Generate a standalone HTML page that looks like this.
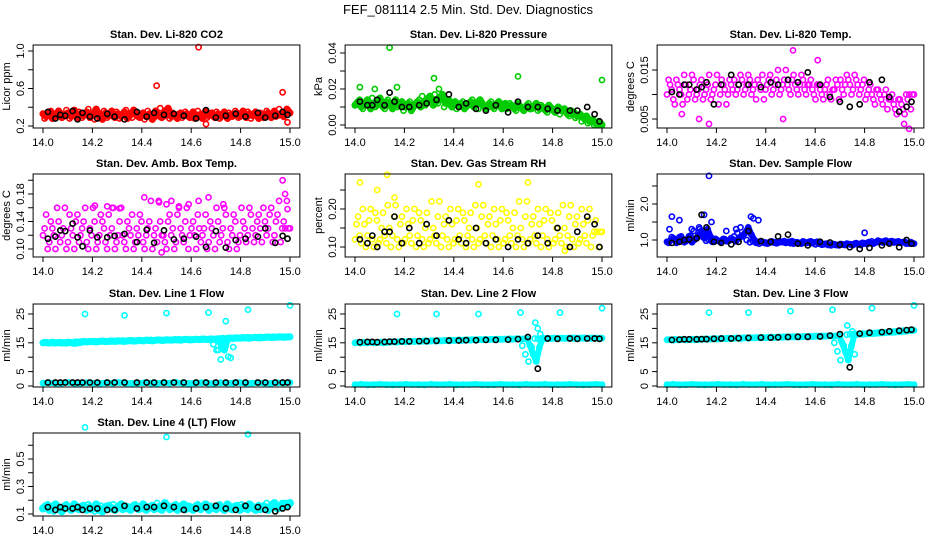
<!DOCTYPE html>
<html><head><meta charset="utf-8"><style>
html,body{margin:0;padding:0;background:#fff;}
svg{display:block;font-family:"Liberation Sans",sans-serif;}
</style></head><body>
<svg id="chart" width="936" height="540" viewBox="0 0 936 540" xmlns="http://www.w3.org/2000/svg">
<text x="468" y="14" font-size="13" text-anchor="middle">FEF_081114  2.5 Min. Std. Dev. Diagnostics</text>
</svg>
<script>
const xTicks=[14.0,14.2,14.4,14.6,14.8,15.0];
const xTickLabels=["14.0","14.2","14.4","14.6","14.8","15.0"];
const blackX=[14.02,14.05,14.07,14.09,14.12,14.14,14.16,14.19,14.22,14.26,14.29,14.33,14.38,14.42,14.45,14.49,14.53,14.57,14.62,14.66,14.70,14.74,14.78,14.82,14.87,14.90,14.94,14.97,14.99];

const co2Band=[.33,.30,.35,.28,.32,.36,.29,.31,.34,.30,.37,.28,.33,.31,.35,.29,.32,.38,.30,.27,.34,.31,.36,.29,.33,.30,.35,.28,.32,.37,.31,.29,.34,.30,.33,.27,.36,.31,.29,.35,.39,.30,.32,.28,.34,.31,.33,.29,.35,.30,.32,.28,.36,.31,.34,.29,.33,.30,.35,.28,.32,.31,.34,.30,.36,.29,.33,.31,.35,.28,.32,.30,.34,.29,.36,.31,.33,.30,.38,.34];
const co2OutX=[14.46,14.63,14.66,14.97,14.99];
const co2OutY=[.63,1.04,.22,.56,.24];
const co2Black=[.35,.28,.32,.31,.36,.27,.34,.30,.28,.33,.30,.27,.35,.30,.34,.32,.33,.31,.28,.37,.29,.31,.33,.30,.34,.29,.31,.35,.32];

const presBand=[.011,.013,.010,.012,.014,.009,.012,.011,.015,.010,.013,.012,.009,.014,.011,.013,.010,.012,.008,.011,.013,.010,.012,.014,.016,.011,.013,.015,.017,.012,.014,.010,.013,.011,.012,.009,.011,.013,.010,.012,.014,.011,.009,.012,.010,.011,.013,.009,.012,.010,.011,.009,.012,.010,.008,.011,.009,.010,.012,.009,.010,.008,.011,.009,.007,.010,.008,.009,.006,.008,.007,.005,.006,.004,.005,.002,.003,.001,.002,.000];
const presOutX=[14.02,14.08,14.14,14.17,14.32,14.34,14.66,15.0];
const presOutY=[.021,.020,.043,.021,.026,.020,.027,.025];
const presBlack=[.013,.011,.011,.014,.011,.018,.013,.010,.010,.011,.012,.014,.017,.010,.012,.009,.008,.011,.007,.013,.010,.010,.009,.008,.008,.008,.010,.006,.002];

const tempBand=[.010,.012,.009,.013,.011,.008,.012,.010,.014,.009,.011,.013,.010,.012,.009,.011,.014,.010,.012,.008,.013,.011,.010,.012,.013,.011,.014,.010,.012,.013,.011,.009,.012,.014,.011,.013,.010,.012,.015,.011,.013,.012,.010,.014,.011,.012,.013,.010,.012,.011,.009,.012,.010,.011,.013,.009,.011,.012,.013,.010,.014,.012,.011,.013,.010,.012,.009,.011,.010,.008,.011,.009,.010,.007,.009,.008,.006,.009,.007,.010];
const tempOutX=[14.06,14.13,14.17,14.47,14.51,14.61,14.96,14.98];
const tempOutY=[.006,.005,.004,.005,.019,.017,.004,.003];
const tempBlack=[.0105,.010,.012,.012,.011,.0115,.0125,.008,.012,.014,.012,.012,.0115,.0125,.012,.013,.0125,.0145,.012,.0095,.0085,.0075,.008,.0125,.013,.0095,.0065,.0075,.0085];

const ambBand=[.12,.15,.11,.13,.10,.14,.12,.16,.11,.13,.10,.15,.12,.14,.11,.13,.16,.10,.12,.14,.11,.15,.13,.10,.12,.16,.11,.14,.12,.10,.13,.15,.11,.12,.14,.10,.13,.17,.12,.11,.14,.12,.10,.15,.13,.11,.16,.12,.14,.10,.13,.12,.15,.11,.13,.10,.14,.12,.16,.11,.13,.15,.10,.12,.14,.11,.16,.13,.12,.15,.11,.14,.13,.16,.12,.15,.11,.14,.17,.13];
const ambOutX=[14.21,14.26,14.28,14.31,14.47,14.5,14.52,14.55,14.59,14.63,14.67,14.73,14.97,14.98,14.99,14.41,14.48];
const ambOutY=[.163,.162,.160,.159,.168,.165,.170,.162,.165,.170,.175,.165,.20,.18,.158,.175,.095];
const ambBlack=[.115,.118,.127,.126,.137,.117,.104,.127,.117,.117,.119,.122,.110,.128,.109,.127,.114,.115,.118,.103,.126,.102,.113,.115,.118,.130,.109,.119,.115];

const rhBand=[.12,.18,.11,.16,.13,.20,.10,.17,.12,.19,.11,.15,.13,.21,.10,.18,.12,.16,.11,.20,.13,.17,.10,.19,.12,.15,.11,.22,.13,.18,.10,.16,.12,.20,.11,.17,.13,.19,.10,.15,.12,.21,.11,.18,.13,.16,.10,.20,.12,.17,.11,.19,.13,.15,.10,.22,.12,.18,.11,.16,.13,.20,.10,.17,.12,.19,.11,.15,.13,.21,.10,.18,.12,.16,.11,.20,.13,.17,.10,.14];
const rhOutX=[14.02,14.09,14.13,14.16,14.5,14.7,14.85];
const rhOutY=[.27,.25,.29,.23,.265,.27,.09];
const rhBlack=[.12,.11,.13,.10,.14,.14,.18,.11,.15,.11,.16,.13,.17,.12,.11,.15,.11,.12,.10,.12,.11,.13,.11,.15,.10,.14,.18,.16,.10];

const flowBand=[.95,.98,1.05,.92,1.08,1.0,.96,1.10,.94,1.02,1.12,1.25,1.05,1.3,1.08,.98,1.0,.95,1.03,.97,.99,1.02,.96,1.05,1.1,1.2,1.35,1.15,1.0,.94,.96,.92,.90,.95,.93,.91,.96,.94,.92,.95,.97,.93,.91,.90,.94,.92,.96,.93,.95,.91,.88,.90,.87,.89,.86,.85,.88,.86,.89,.87,.90,.88,.86,.91,.89,.92,.90,.94,.96,.93,.98,.95,.97,.94,.96,.93,.95,.92,.94,.90];
const flowOutX=[14.01,14.02,14.05,14.1,14.13,14.15,14.17,14.18,14.34,14.35,14.37,14.24,14.28,14.8];
const flowOutY=[1.3,1.65,1.55,1.3,1.35,1.7,2.78,1.5,1.65,1.6,1.55,1.25,1.3,1.2];
const flowBlack=[.92,.95,1.0,1.02,1.05,1.7,1.35,.95,.92,.88,.95,1.25,.97,.95,1.1,1.15,.9,.85,.95,.93,.87,.80,.75,.78,.85,.90,.80,1.0,.90];

const line1Band=[15.0,15.1,14.9,15.2,15.0,15.1,14.9,15.0,15.2,15.1,14.8,15.0,15.1,15.4,15.3,15.5,15.4,15.3,15.5,15.6,15.4,15.5,15.6,15.5,15.7,15.6,15.5,15.7,15.8,15.6,15.7,15.8,15.7,15.9,15.8,15.7,15.9,16.0,15.8,15.9,16.0,15.9,16.1,16.0,15.9,16.1,16.2,16.0,16.1,16.2,16.1,16.3,16.2,16.1,16.3,16.2,16.4,14.5,12.5,16.5,16.6,16.5,16.7,16.6,16.8,16.7,16.6,16.8,16.9,16.7,16.8,16.9,17.0,16.8,16.9,17.0,17.1,16.9,17.0,17.1];
const line1Low=[1.0,1.1,0.9,1.0,1.2,0.9,1.0,1.1,1.0,0.9,1.1,1.0,1.2,1.0,0.9,1.0,1.1,1.0,0.9,1.1,1.0,1.2,1.0,0.9,1.0,1.1,1.0,0.9,1.1,1.0,1.0,1.2,0.9,1.0,1.1,1.0,0.9,1.1,1.0,1.2];
const line1OutX=[14.17,14.33,14.5,14.67,14.83,15.0,14.71,14.72,14.73,14.74,14.75,14.76,14.77,14.73];
const line1OutY=[25,24.5,25.3,25.5,26.5,28,12.5,9.2,13,22.5,10.2,9.8,13.5,16];
const line1Black=[1.2,1.2,1.2,1.2,1.2,1.2,1.2,1.2,1.2,1.2,1.2,1.2,1.2,1.2,1.2,1.2,1.2,1.2,1.2,1.2,1.2,1.2,1.2,1.2,1.2,1.2,1.2,1.2,1.2];

const line2Band=[15.0,15.1,14.9,15.1,15.0,15.2,15.0,15.1,15.2,15.0,15.1,15.2,15.3,15.2,15.3,15.4,15.3,15.4,15.5,15.4,15.5,15.5,15.6,15.5,15.6,15.7,15.6,15.7,15.7,15.8,15.7,15.8,15.8,15.9,15.8,15.9,16.0,15.9,16.0,16.0,16.1,16.0,16.1,16.1,16.2,16.1,16.2,16.2,16.3,16.2,16.3,16.3,16.4,16.3,16.4,16.4,14.0,11.0,8.5,13.5,16.5,16.4,16.5,16.5,16.6,16.5,16.6,16.5,16.6,16.6,16.5,16.6,16.7,16.6,16.5,16.6,16.7,16.6,16.5,16.6];
const line2Low=[0.5,0.6,0.4,0.5,0.6,0.5,0.4,0.5,0.6,0.5,0.5,0.4,0.6,0.5,0.5,0.6,0.4,0.5,0.5,0.6,0.5,0.4,0.5,0.6,0.5,0.5,0.4,0.6,0.5,0.5,0.6,0.4,0.5,0.5,0.6,0.5,0.4,0.5,0.6,0.5];
const line2OutX=[14.17,14.33,14.5,14.67,14.83,15.0,14.73,14.74,14.75];
const line2OutY=[25,25,25,25.5,25.5,27,22,20,18];
const line2Black=[15.2,15.3,15.3,15.2,15.3,15.4,15.4,15.5,15.5,15.6,15.6,15.7,15.8,15.8,15.9,15.9,16.0,16.0,16.1,16.3,17.0,6.0,16.5,16.4,16.5,16.4,16.5,16.5,16.4];

const line3Band=[16.0,16.1,15.9,16.1,16.0,16.2,16.0,16.1,16.2,16.0,16.1,16.2,16.3,16.2,16.3,16.4,16.3,16.4,16.5,16.4,16.5,16.5,16.6,16.5,16.6,16.7,16.6,16.7,16.7,16.8,16.7,16.8,16.8,16.9,16.8,16.9,17.0,16.9,17.0,17.0,17.1,17.0,17.1,17.1,17.2,17.1,17.2,17.2,17.3,17.2,17.3,17.3,17.4,17.3,17.4,17.5,15.0,12.0,9.0,14.0,17.8,17.9,18.0,18.0,18.1,18.2,18.2,18.3,18.4,18.4,18.5,18.6,18.6,18.7,18.8,18.9,19.0,19.1,19.2,19.3];
const line3Low=[0.5,0.6,0.4,0.5,0.6,0.5,0.4,0.5,0.6,0.5,0.5,0.4,0.6,0.5,0.5,0.6,0.4,0.5,0.5,0.6,0.5,0.4,0.5,0.6,0.5,0.5,0.4,0.6,0.5,0.5,0.6,0.4,0.5,0.5,0.6,0.5,0.4,0.5,0.6,0.5];
const line3OutX=[14.17,14.33,14.5,14.67,14.83,15.0,14.73,14.75,14.76];
const line3OutY=[25.5,25.5,26,26.5,27,28,21,19,11];
const line3Black=[16.0,16.1,16.2,16.2,16.2,16.3,16.3,16.4,16.5,16.5,16.6,16.7,16.8,16.8,16.9,17.0,17.1,17.1,17.2,17.5,18.0,6.5,18.2,18.5,18.7,19.0,19.2,19.4,19.6];

const line4Band=[.14,.16,.13,.15,.17,.14,.12,.16,.15,.13,.17,.14,.15,.16,.13,.15,.14,.17,.13,.12,.15,.16,.14,.13,.15,.17,.14,.15,.13,.16,.15,.14,.17,.13,.15,.16,.14,.15,.13,.18,.15,.14,.16,.13,.15,.17,.14,.15,.13,.16,.14,.15,.17,.13,.15,.14,.16,.15,.13,.17,.14,.15,.16,.13,.15,.14,.17,.15,.13,.16,.14,.15,.13,.16,.18,.14,.15,.17,.16,.18];
const line4OutX=[14.17,14.5,14.83];
const line4OutY=[.73,.66,.68];
const line4Black=[.15,.13,.15,.14,.14,.15,.13,.14,.14,.13,.13,.16,.14,.15,.15,.16,.15,.13,.14,.15,.16,.14,.13,.16,.15,.13,.12,.14,.15];

const svg=document.getElementById('chart');
const NS='http://www.w3.org/2000/svg';
const colX14=[43,355,667];
const rowTop=[45,174,304,433];
const BOXH=83, XW=247;

const panels=[
 {name:'licor-co2',title:'Stan. Dev. Li-820 CO2',yl:'Licor ppm',c:0,r:0,col:'#ff0000',cal:[0.2,81,1.0,6],ticks:[0.2,0.4,0.6,0.8,1.0],labs:['0.2','','0.6','','1.0'],band:co2Band,low:null,ox:co2OutX,oy:co2OutY,bk:co2Black,solid:7},
 {name:'licor-pressure',title:'Stan. Dev. Li-820 Pressure',yl:'kPa',c:1,r:0,col:'#00cc00',cal:[0,80,0.04,8],ticks:[0,.01,.02,.03,.04],labs:['0.00','','0.02','','0.04'],band:presBand,low:null,ox:presOutX,oy:presOutY,bk:presBlack,solid:7},
 {name:'licor-temp',title:'Stan. Dev. Li-820 Temp.',yl:'degrees C',c:2,r:0,col:'#ff00ff',cal:[0.005,74,0.015,25],ticks:[.005,.010,.015],labs:['0.005','','0.015'],band:tempBand,low:null,ox:tempOutX,oy:tempOutY,bk:tempBlack,solid:0},
 {name:'amb-box-temp',title:'Stan. Dev. Amb. Box Temp.',yl:'degrees C',c:0,r:1,col:'#ff00ff',cal:[0.10,75,0.18,20],ticks:[.10,.12,.14,.16,.18,.20],labs:['0.10','','0.14','','0.18',''],band:ambBand,low:null,ox:ambOutX,oy:ambOutY,bk:ambBlack,solid:0},
 {name:'gas-stream-rh',title:'Stan. Dev. Gas Stream RH',yl:'percent',c:1,r:1,col:'#ffff00',cal:[0.10,73,0.20,35],ticks:[.10,.15,.20,.25],labs:['0.10','','0.20',''],band:rhBand,low:null,ox:rhOutX,oy:rhOutY,bk:rhBlack,solid:0},
 {name:'sample-flow',title:'Stan. Dev. Sample Flow',yl:'ml/min',c:2,r:1,col:'#0000ff',cal:[1.0,66,2.0,30],ticks:[1.0,1.5,2.0,2.5],labs:['1.0','','2.0',''],band:flowBand,low:null,ox:flowOutX,oy:flowOutY,bk:flowBlack,solid:6},
 {name:'line1-flow',title:'Stan. Dev. Line 1 Flow',yl:'ml/min',c:0,r:2,col:'#00ffff',cal:[0,82,25,10],ticks:[0,5,10,15,20,25],labs:['0','5','','15','','25'],band:line1Band,low:line1Low,ox:line1OutX,oy:line1OutY,bk:line1Black,solid:7},
 {name:'line2-flow',title:'Stan. Dev. Line 2 Flow',yl:'ml/min',c:1,r:2,col:'#00ffff',cal:[0,82,25,10],ticks:[0,5,10,15,20,25],labs:['0','5','','15','','25'],band:line2Band,low:line2Low,ox:line2OutX,oy:line2OutY,bk:line2Black,solid:6},
 {name:'line3-flow',title:'Stan. Dev. Line 3 Flow',yl:'ml/min',c:2,r:2,col:'#00ffff',cal:[0,82,25,10],ticks:[0,5,10,15,20,25],labs:['0','5','','15','','25'],band:line3Band,low:line3Low,ox:line3OutX,oy:line3OutY,bk:line3Black,solid:6},
 {name:'line4-flow',title:'Stan. Dev. Line 4 (LT) Flow',yl:'ml/min',c:0,r:3,col:'#00ffff',cal:[0.1,81,0.5,26],ticks:[.1,.2,.3,.4,.5,.6],labs:['0.1','','0.3','','0.5',''],band:line4Band,low:null,ox:line4OutX,oy:line4OutY,bk:line4Black,solid:8}
];

function mk(tag,attrs,parent){const e=document.createElementNS(NS,tag);for(const k in attrs)e.setAttribute(k,attrs[k]);(parent||svg).appendChild(e);return e;}

panels.forEach(p=>{
  const x14=colX14[p.c], top=rowTop[p.r], bot=top+BOXH;
  const left=x14-XW*0.04, right=x14+XW*1.04;
  const xs=v=>x14+(v-14)*XW;
  const k=(p.cal[3]-p.cal[1])/(p.cal[2]-p.cal[0]);
  const ys=v=>top+p.cal[1]+(v-p.cal[0])*k;
  const g=mk('g',{});
  
  
  const t=mk('text',{x:(left+right)/2,y:top-7,'font-size':11,'font-weight':'bold','text-anchor':'middle'},g);
  t.textContent=p.title;
  
  
  const pts=mk('g',{fill:'none','stroke-width':1.6},g);
  
  
  const n=p.band.length;
  const bx=i=>14+i/(n-1);
  if(p.solid){
    const pl=mk('polyline',{points:p.band.map((v,i)=>xs(bx(i)).toFixed(1)+','+ys(v).toFixed(1)).join(' '),fill:'none',stroke:p.col,'stroke-width':p.solid,'stroke-linejoin':'round','stroke-linecap':'round'},pts);
    
    
  }
  if(p.low){
    const m=p.low.length;
    const pl=mk('polyline',{points:p.low.map((v,i)=>xs(14+i/(m-1)).toFixed(1)+','+ys(v).toFixed(1)).join(' '),fill:'none',stroke:p.col,'stroke-width':6,'stroke-linecap':'round'},pts);
    
    
  }
  const dot=(x,y,col)=>{const c=mk('circle',{cx:xs(x).toFixed(1),cy:ys(y).toFixed(1),r:2.6,stroke:col},pts);
    
    };
  p.band.forEach((v,i)=>dot(bx(i),v,p.col));
  // second pass: nearby values (3 steps ahead), offset half a step, to mimic dense sampling
  p.band.forEach((v,i)=>{ if(i<n-1) dot(bx(i)+0.5/(n-1),p.band[Math.min(i+3,n-1)],p.col); });
  if(p.low) p.low.forEach((v,i)=>dot(14+i/(p.low.length-1),v,p.col));
  p.ox.forEach((x,i)=>dot(x,p.oy[i],p.col));
  p.bk.forEach((v,i)=>dot(blackX[i],v,'#000'));
  const box=mk('rect',{x:left,y:top,width:right-left,height:BOXH,fill:'none',stroke:'#000','stroke-width':1},g);
  
  
  const xa=mk('g',{stroke:'#000','stroke-width':1},g);
  
  
  xTicks.forEach((v,i)=>{
    mk('line',{x1:xs(v),x2:xs(v),y1:bot,y2:bot+5},xa);
    const tl=mk('text',{x:xs(v),y:bot+18,'font-size':11,'text-anchor':'middle',stroke:'none'},xa);
    tl.textContent=xTickLabels[i];
  });
  const ya=mk('g',{stroke:'#000','stroke-width':1},g);
  
  
  p.ticks.forEach((v,i)=>{
    mk('line',{x1:left-5,x2:left,y1:ys(v),y2:ys(v)},ya);
    if(p.labs[i]){const tl=mk('text',{x:0,y:0,'font-size':11,'text-anchor':'middle',stroke:'none',transform:`translate(${left-9},${ys(v)}) rotate(-90)`},ya);tl.textContent=p.labs[i];}
  });
  const yl=mk('text',{'font-size':11,'text-anchor':'middle',transform:`translate(${left-23},${top+BOXH/2}) rotate(-90)`},g);
  yl.textContent=p.yl;
  
  
});
</script>
</body></html>
